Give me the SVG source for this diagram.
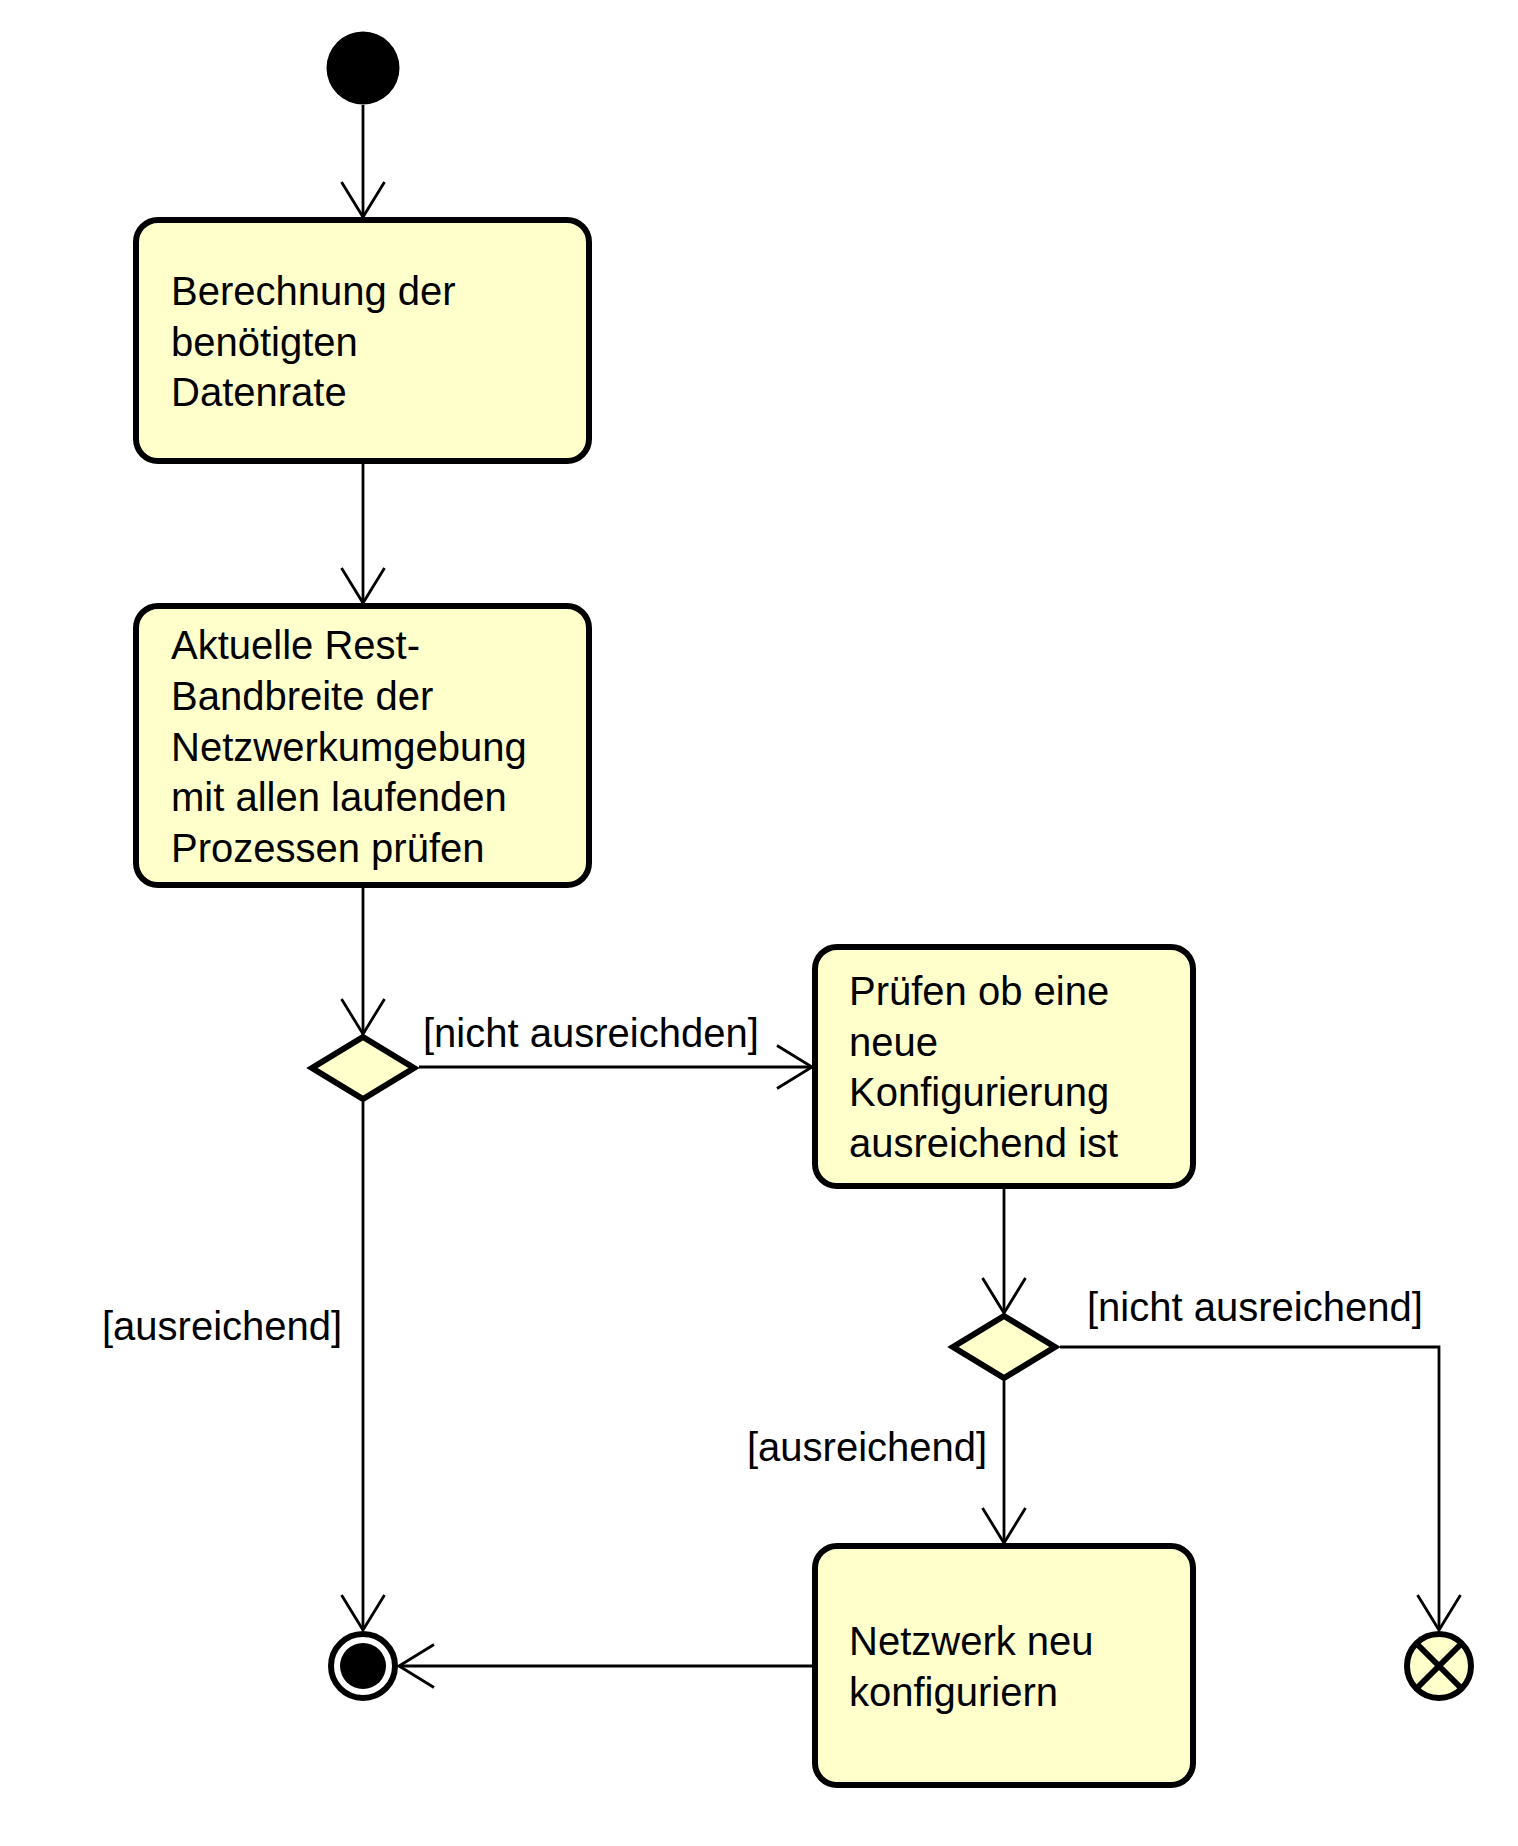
<svg xmlns="http://www.w3.org/2000/svg" width="1518" height="1846" viewBox="0 0 1518 1846">
<style>
.box{fill:#FFFFCC;stroke:#000;stroke-width:6}
.dia{fill:#FFFFCC;stroke:#000;stroke-width:6;stroke-linejoin:miter}
.t{font-family:"Liberation Sans",Arial,sans-serif;font-size:40px;fill:#000}
.edge{fill:none;stroke:#000;stroke-width:2.8}
</style>
<defs>
<marker id="arr" markerUnits="userSpaceOnUse" markerWidth="80" markerHeight="80" refX="0" refY="0" orient="auto" overflow="visible">
<path d="M-35,-21.5 L0,0 L-35,21.5" fill="none" stroke="#000" stroke-width="2.8"/>
</marker>
</defs>
<rect width="1518" height="1846" fill="#fff"/>
<g id="connectors">
<path class="edge" d="M363,105 L363,217" marker-end="url(#arr)"/>
<path class="edge" d="M363,464 L363,603" marker-end="url(#arr)"/>
<path class="edge" d="M363,888 L363,1034" marker-end="url(#arr)"/>
<path class="edge" d="M419,1067 L812,1067" marker-end="url(#arr)"/>
<text class="t" x="423" y="1047">[nicht ausreichden]</text>
<path class="edge" d="M363,1102 L363,1630" marker-end="url(#arr)"/>
<text class="t" x="102" y="1340">[ausreichend]</text>
<path class="edge" d="M1004,1189 L1004,1313" marker-end="url(#arr)"/>
<path class="edge" d="M1060,1347 L1439,1347 L1439,1630" marker-end="url(#arr)"/>
<text class="t" x="1087" y="1321">[nicht ausreichend]</text>
<path class="edge" d="M1004,1381 L1004,1543" marker-end="url(#arr)"/>
<text class="t" x="747" y="1461">[ausreichend]</text>
<path class="edge" d="M812,1666 L399,1666" marker-end="url(#arr)"/>
</g>
<g id="start">
<circle cx="363" cy="68" r="36.5" fill="#000"/>
</g>
<g id="box1">
<rect class="box" x="136" y="220" width="453" height="241" rx="22"/>
<text class="t"><tspan x="171" y="305">Berechnung der</tspan><tspan x="171" y="356">benötigten</tspan><tspan x="171" y="406">Datenrate</tspan></text>
</g>
<g id="box2">
<rect class="box" x="136" y="606" width="453" height="279" rx="22"/>
<text class="t"><tspan x="171" y="659">Aktuelle Rest-</tspan><tspan x="171" y="710">Bandbreite der</tspan><tspan x="171" y="761">Netzwerkumgebung</tspan><tspan x="171" y="811">mit allen laufenden</tspan><tspan x="171" y="862">Prozessen prüfen</tspan></text>
</g>
<g id="decision1">
<path class="dia" d="M363,1037 L414,1068 L363,1099 L312,1068 Z"/>
</g>
<g id="box3">
<rect class="box" x="815" y="947" width="378" height="239" rx="22"/>
<text class="t"><tspan x="849" y="1005">Prüfen ob eine</tspan><tspan x="849" y="1056">neue</tspan><tspan x="849" y="1106">Konfigurierung</tspan><tspan x="849" y="1157">ausreichend ist</tspan></text>
</g>
<g id="decision2">
<path class="dia" d="M1004,1316 L1055,1347 L1004,1378 L953,1347 Z"/>
</g>
<g id="box4">
<rect class="box" x="815" y="1546" width="378" height="239" rx="22"/>
<text class="t"><tspan x="849" y="1655">Netzwerk neu</tspan><tspan x="849" y="1706">konfiguriern</tspan></text>
</g>
<g id="final">
<circle cx="363" cy="1666" r="32" fill="#fff" stroke="#000" stroke-width="6"/>
<circle cx="363" cy="1666" r="23" fill="#000"/>
</g>
<g id="flowfinal">
<circle cx="1439" cy="1666" r="32" fill="#FFFFCC" stroke="#000" stroke-width="6"/>
<path d="M1418,1645 L1460,1687 M1460,1645 L1418,1687" stroke="#000" stroke-width="6"/>
</g>
</svg>
